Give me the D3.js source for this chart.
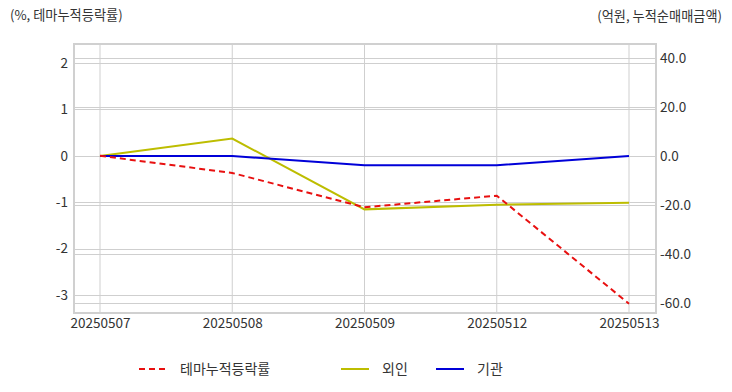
<!DOCTYPE html>
<meta charset="utf-8">
<style>
body { margin: 0; background: #fff; }
text { font-family: "Noto Sans CJK KR", "Noto Sans", sans-serif; fill: #333; }
</style>
<svg width="732" height="392"></svg>
<script src="https://d3js.org/d3.v7.min.js"></script>
<script>

// data
var dates = ["20250507", "20250508", "20250509", "20250512", "20250513"];
var themeRate = [0, -0.37, -1.11, -0.86, -3.19];   // %, left axis
var foreign = [0, 7.1, -21.8, -19.9, -19.1];       // 억원, right axis
var inst = [0, 0, -3.8, -3.8, 0];                  // 억원, right axis
var leftTicks = [2, 1, 0, -1, -2, -3];
var rightTicks = [40, 20, 0, -20, -40, -60];

var svg = d3.select("svg"),
    margin = {top: 44, right: 76, bottom: 79, left: 74},
    width = +svg.attr("width") - margin.left - margin.right,
    height = +svg.attr("height") - margin.top - margin.bottom,
    g = svg.append("g").attr("transform", "translate(" + margin.left + "," + margin.top + ")");

var x = d3.scalePoint()
    .domain(dates)
    .range([26, width - 27]);

var yL = d3.scaleLinear().domain([-3.39, 2.41]).range([height, 0]);
var yR = d3.scaleLinear().domain([-64.1, 45.7]).range([height, 0]);

// plain hyphen for negatives, like the original
var fmtL = function(d) { return d3.format("d")(d).replace("\u2212", "-"); };
var fmtR = function(d) { return d3.format(".1f")(d).replace("\u2212", "-"); };

// grid: vertical
g.append("g").selectAll("line")
  .data(dates)
  .enter().append("line")
    .attr("x1", function(d) { return x(d); })
    .attr("x2", function(d) { return x(d); })
    .attr("y1", 0).attr("y2", height)
    .attr("stroke", "#cfcfcf");

// grid: horizontal, both axes
g.append("g").selectAll("line")
  .data(leftTicks)
  .enter().append("line")
    .attr("x1", 0).attr("x2", width)
    .attr("y1", function(d) { return Math.round(yL(d)) + 0.5; })
    .attr("y2", function(d) { return Math.round(yL(d)) + 0.5; })
    .attr("stroke", "#cfcfcf");

g.append("g").selectAll("line")
  .data(rightTicks)
  .enter().append("line")
    .attr("x1", 0).attr("x2", width)
    .attr("y1", function(d) { return Math.round(yR(d)) + 0.5; })
    .attr("y2", function(d) { return Math.round(yR(d)) + 0.5; })
    .attr("stroke", "#cfcfcf");

// plot border
g.append("rect")
    .attr("width", width)
    .attr("height", height)
    .attr("fill", "none")
    .attr("stroke", "#d0d0d0")
    .attr("stroke-width", 2);

// axes
var axL = g.append("g")
    .call(d3.axisLeft(yL).tickValues(leftTicks).tickSize(0).tickPadding(6).tickFormat(fmtL));
var axR = g.append("g")
    .attr("transform", "translate(" + width + ",0)")
    .call(d3.axisRight(yR).tickValues(rightTicks).tickSize(0).tickPadding(4).tickFormat(fmtR));
var axB = g.append("g")
    .attr("transform", "translate(0," + height + ")")
    .call(d3.axisBottom(x).tickSize(0).tickPadding(5));

[axL, axR, axB].forEach(function(a) {
  a.select(".domain").remove();
  a.selectAll("text").attr("font-size", 13.5).attr("fill", "#333")
    .style("font-family", "'Noto Sans CJK KR', sans-serif");
});

// lines
var lineL = d3.line()
    .x(function(d, i) { return x(dates[i]); })
    .y(function(d) { return yL(d); });
var lineR = d3.line()
    .x(function(d, i) { return x(dates[i]); })
    .y(function(d) { return yR(d); });

g.append("path").datum(foreign)
    .attr("d", lineR).attr("fill", "none")
    .attr("stroke", "#bdbd00").attr("stroke-width", 2);
g.append("path").datum(inst)
    .attr("d", lineR).attr("fill", "none")
    .attr("stroke", "#0000d8").attr("stroke-width", 2);
g.append("path").datum(themeRate)
    .attr("d", lineL).attr("fill", "none")
    .attr("stroke", "#e81010").attr("stroke-width", 2)
    .attr("stroke-dasharray", "6,4");

// unit labels
svg.append("text").attr("x", 10).attr("y", 20)
    .attr("font-size", 13.2).text("(%, 테마누적등락률)");
svg.append("text").attr("x", 722).attr("y", 21)
    .attr("font-size", 13.2).attr("text-anchor", "end").text("(억원, 누적순매매금액)");

// legend
var legendItems = [
  {name: "테마누적등락률", color: "#e81010", dash: "6,4", x: 139},
  {name: "외인", color: "#bdbd00", dash: null, x: 341},
  {name: "기관", color: "#0000d8", dash: null, x: 436}
];
var legend = svg.append("g").selectAll("g")
  .data(legendItems)
  .enter().append("g")
    .attr("transform", function(d) { return "translate(" + d.x + ",369)"; });
legend.append("line")
    .attr("x1", 0).attr("x2", 28)
    .attr("stroke", function(d) { return d.color; })
    .attr("stroke-width", 2)
    .attr("stroke-dasharray", function(d) { return d.dash; });
legend.append("text")
    .attr("x", 41).attr("dy", "0.35em")
    .attr("font-size", 14)
    .text(function(d) { return d.name; });

</script>
